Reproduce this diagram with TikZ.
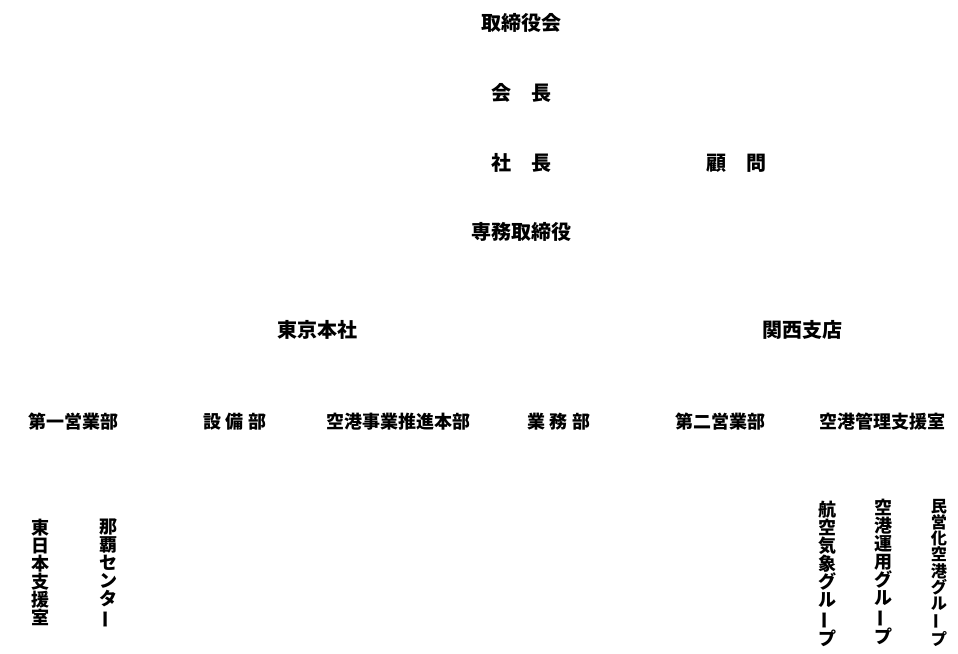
\documentclass[tikz,border=0pt]{standalone}
\usepackage{fontspec}
\setmainfont{Noto Sans CJK JP}
\usetikzlibrary{positioning}

\newcommand{\vchoon}{\rotatebox[origin=c]{90}{ー}}

\begin{document}
\begin{tikzpicture}[x=1pt,y=-1pt,
  top/.style={inner sep=0pt,font=\fontsize{20}{20}\selectfont\bfseries},
  dept/.style={inner sep=0pt,font=\fontsize{18}{18}\selectfont\bfseries},
  tate/.style={inner sep=0pt,anchor=north,align=center,font=\fontsize{18}{18}\selectfont\bfseries},
  tatesm/.style={tate,font=\fontsize{16.2}{16.2}\selectfont\bfseries}
]
  \useasboundingbox (0,0) rectangle (958,653);

  % Board and officers
  \node[top] (board)   at (521,23)  {取締役会};
  \node[top] (chair)   at (521,93)  {会　長};
  \node[top] (pres)    at (521,163) {社　長};
  \node[top] (advisor) at (736,163) {顧　問};
  \node[top] (md)      at (521,232) {専務取締役};

  % Offices
  \node[top] (tokyo)  at (317,330) {東京本社};
  \node[top] (kansai) at (802,330) {関西支店};

  % Departments
  \node[dept] (sales1)  at (73,422)  {第一営業部};
  \node[dept] (facil)   at (235,422) {設 備 部};
  \node[dept] (airport) at (398,422) {空港事業推進本部};
  \node[dept] (admin)   at (559,422) {業 務 部};
  \node[dept] (sales2)  at (720,422) {第二営業部};
  \node[dept] (apmgmt)  at (882,422) {空港管理支援室};

  % Groups (vertical text)
  \node[tate]   (east)   at (40,519)  {東\\日\\本\\支\\援\\室};
  \node[tate]   (naha)   at (108,519) {那\\覇\\セ\\ン\\タ\\\vchoon};
  \node[tate]   (meteo)  at (827,501) {航\\空\\気\\象\\グ\\ル\\\vchoon\\プ};
  \node[tate]   (apops)  at (883,499) {空\\港\\運\\用\\グ\\ル\\\vchoon\\プ};
  \node[tatesm] (privat) at (939,499) {民\\営\\化\\空\\港\\グ\\ル\\\vchoon\\プ};
\end{tikzpicture}
\end{document}
